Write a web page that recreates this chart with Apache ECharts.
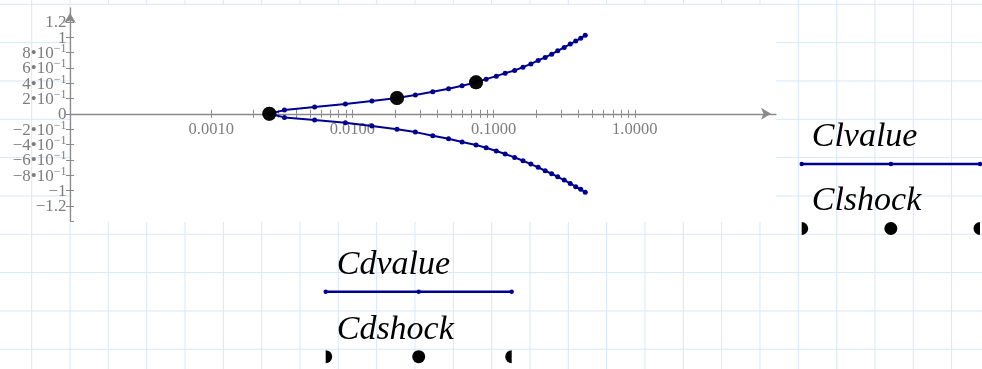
<!DOCTYPE html>
<html>
<head>
<meta charset="utf-8">
<script src="https://cdn.jsdelivr.net/npm/echarts@6/dist/echarts.min.js"></script>
<style>
html,body{margin:0;padding:0;background:#fff;}
#chart{width:982px;height:369px;}
</style>
</head>
<body>
<div id="chart"></div>
<script>
// ---- data ----
const xValues = [0.00258, 0.00330, 0.00540, 0.00892, 0.01375, 0.0207, 0.0279, 0.0371, 0.0480, 0.0598,
  0.0751, 0.0885, 0.1045, 0.1207, 0.1409, 0.1614, 0.1836, 0.2069, 0.2318, 0.2578,
  0.2844, 0.3162, 0.3489, 0.3817, 0.4140, 0.4458];
const clValues = [0, 0.048, 0.087, 0.127, 0.166, 0.205, 0.244, 0.287, 0.326, 0.365,
  0.41, 0.452, 0.491, 0.530, 0.565, 0.608, 0.651, 0.696, 0.735, 0.778,
  0.821, 0.866, 0.909, 0.948, 0.987, 1.023];
const cdValues = [0, -0.047, -0.082, -0.117, -0.16, -0.203, -0.239, -0.287, -0.326, -0.369,
  -0.408, -0.443, -0.486, -0.525, -0.569, -0.613, -0.656, -0.699, -0.743, -0.782,
  -0.822, -0.865, -0.908, -0.952, -0.986, -1.025];
const shockX = [0.00258, 0.0207, 0.0751];
const clShock = [0, 0.205, 0.41];
const cdShock = [0, 0.205, 0.41];
const xTickValues = [0.001, 0.002, 0.003, 0.004, 0.005, 0.006, 0.007, 0.008, 0.009,
  0.01, 0.02, 0.03, 0.04, 0.05, 0.06, 0.07, 0.08, 0.09,
  0.1, 0.2, 0.3, 0.4, 0.5, 0.6, 0.7, 0.8, 0.9, 1];
const xLabelValues = [0.001, 0.01, 0.1, 1];
const yTickValues = [-1.4, -1.2, -1, -0.8, -0.6, -0.4, -0.2, 0, 0.2, 0.4, 0.6, 0.8, 1, 1.2];
const yMin = -1.4, yMax = 1.38, yStep = 0.2;
const legendNames = ['Clvalue', 'Clshock', 'Cdvalue', 'Cdshock'];

// ---- styling ----
const NAVY = '#000090';
const AXIS = '#8a8a8a';
const LABEL = '#7d7d7d';
const GRIDC = '#d8e7fa';
const SERIF = '"Liberation Serif", serif';

function fmtY(v) {
  if (Math.abs(v) > 1.3) return '';
  const a = Math.round(Math.abs(v) * 10);
  const sign = v < 0 ? '\u2212' : '';
  if (a === 0) return '{b|0}';
  if (a === 10) return '{b|' + sign + '1}';
  if (a === 12) return '{b|' + sign + '1.2}';
  return '{b|' + sign + a + '\u2022' + '10}{s|\u22121}';
}

const graphics = [];
// worksheet grid
for (let k = 0; k < 26; k++) {
  const x = 31.7 + 38.33 * k;
  graphics.push({type: 'line', z: -10, silent: true,
    shape: {x1: x, y1: 0, x2: x, y2: 369}, style: {stroke: GRIDC, lineWidth: 1}});
}
for (let k = 0; k < 10; k++) {
  const y = 4.3 + 38.33 * k;
  graphics.push({type: 'line', z: -10, silent: true,
    shape: {x1: 0, y1: y, x2: 982, y2: y}, style: {stroke: GRIDC, lineWidth: 1}});
}
// white plot region
graphics.push({type: 'rect', z: -9, silent: true,
  shape: {x: 70, y: 5, width: 706, height: 217}, style: {fill: '#fff'}});

// legend blocks (Mathcad style)
const LFONT = 'italic 34px ' + SERIF;
function legendLine(name, tx, tBase, ly, x1, x2) {
  graphics.push({type: 'text', z: 5, style: {text: name, x: tx, y: tBase - 10,
    font: LFONT, fill: '#000', verticalAlign: 'middle', align: 'left'}});
  graphics.push({type: 'line', z: 5, shape: {x1: x1, y1: ly, x2: x2, y2: ly},
    style: {stroke: NAVY, lineWidth: 2.5}});
  [x1, (x1 + x2) / 2, x2].forEach(function (cx) {
    graphics.push({type: 'circle', z: 6, shape: {cx: cx, cy: ly, r: 2.2}, style: {fill: NAVY}});
  });
}
function legendDots(name, tx, tBase, ly, x1, x2) {
  graphics.push({type: 'text', z: 5, style: {text: name, x: tx, y: tBase - 10,
    font: LFONT, fill: '#000', verticalAlign: 'middle', align: 'left'}});
  graphics.push({type: 'sector', z: 6, shape: {cx: x1, cy: ly, r: 6.5, startAngle: -Math.PI / 2, endAngle: Math.PI / 2}, style: {fill: '#000'}});
  graphics.push({type: 'circle', z: 6, shape: {cx: (x1 + x2) / 2, cy: ly, r: 6.5}, style: {fill: '#000'}});
  graphics.push({type: 'sector', z: 6, shape: {cx: x2, cy: ly, r: 6.5, startAngle: Math.PI / 2, endAngle: Math.PI * 1.5}, style: {fill: '#000'}});
}
legendLine(legendNames[0], 811.7, 147.3, 164, 801.7, 980);
legendDots(legendNames[1], 811.7, 210.7, 228.5, 801.7, 980);
legendLine(legendNames[2], 336.7, 275, 291.7, 325.7, 511.7);
legendDots(legendNames[3], 336.7, 340, 356.7, 325.7, 511.7);

const chart = echarts.init(document.getElementById('chart'), null, {renderer: 'canvas'});
const option = {
  animation: false,
  backgroundColor: 'transparent',
  graphic: graphics,
  grid: {left: 70, right: 206, top: 8, bottom: 147.9, containLabel: false},
  xAxis: [
    {
      type: 'log', logBase: 10, min: 0.0001, max: 10, position: 'bottom',
      axisLine: {onZero: true, symbol: ['none', 'arrow'], symbolSize: [9, 10], symbolOffset: [0, -5],
        lineStyle: {color: AXIS, width: 1.3}},
      axisTick: {show: true, inside: false, length: 4, customValues: xTickValues,
        lineStyle: {color: AXIS, width: 1}},
      axisLabel: {show: true, customValues: xLabelValues, margin: -100.4, color: LABEL,
        fontFamily: SERIF, fontSize: 16.5, showMinLabel: true, showMaxLabel: true, hideOverlap: false,
        formatter: function (v) { return Number(v).toFixed(4); }},
      splitLine: {show: false}, minorTick: {show: false}
    },
    {
      type: 'log', logBase: 10, min: 0.0001, max: 10, position: 'bottom',
      axisLine: {show: false, onZero: true},
      axisTick: {show: true, inside: true, length: 4, customValues: xTickValues,
        lineStyle: {color: AXIS, width: 1}},
      axisLabel: {show: false},
      splitLine: {show: false}
    }
  ],
  yAxis: [
    {
      type: 'value', min: yMin, max: yMax, interval: yStep, position: 'left',
      axisLine: {show: true, onZero: false, symbol: ['none', 'arrow'], symbolSize: [9, 10], symbolOffset: [0, -5],
        lineStyle: {color: AXIS, width: 1.3}},
      axisTick: {show: true, inside: false, length: 4, customValues: yTickValues,
        lineStyle: {color: AXIS, width: 1}},
      axisLabel: {show: true, margin: 3.5, color: LABEL,
        showMinLabel: false, showMaxLabel: false, hideOverlap: false,
        formatter: fmtY,
        rich: {
          b: {fontFamily: SERIF, fontSize: 17, color: LABEL, lineHeight: 19, verticalAlign: 'bottom'},
          s: {fontFamily: SERIF, fontSize: 12, color: LABEL, lineHeight: 11, verticalAlign: 'top'}
        }},
      splitLine: {show: false}
    },
    {
      type: 'value', min: yMin, max: yMax, interval: yStep, position: 'left',
      axisLine: {show: false, onZero: false},
      axisTick: {show: true, inside: true, length: 4, customValues: yTickValues,
        lineStyle: {color: AXIS, width: 1}},
      axisLabel: {show: false},
      splitLine: {show: false}
    }
  ],
  series: [
    {
      name: legendNames[0], type: 'line', xAxisIndex: 0, yAxisIndex: 0,
      data: xValues.map(function (x, i) { return [x, clValues[i]]; }),
      symbol: 'circle', symbolSize: 5, showAllSymbol: true,
      lineStyle: {color: NAVY, width: 2}, itemStyle: {color: NAVY}, z: 3
    },
    {
      name: legendNames[2], type: 'line', xAxisIndex: 0, yAxisIndex: 0,
      data: xValues.map(function (x, i) { return [x, cdValues[i]]; }),
      symbol: 'circle', symbolSize: 5, showAllSymbol: true,
      lineStyle: {color: NAVY, width: 2}, itemStyle: {color: NAVY}, z: 3
    },
    {
      name: legendNames[1], type: 'scatter', xAxisIndex: 0, yAxisIndex: 0,
      data: shockX.map(function (x, i) { return [x, clShock[i]]; }),
      symbol: 'circle', symbolSize: 14, itemStyle: {color: '#000'}, z: 4
    },
    {
      name: legendNames[3], type: 'scatter', xAxisIndex: 0, yAxisIndex: 0,
      data: shockX.map(function (x, i) { return [x, cdShock[i]]; }),
      symbol: 'circle', symbolSize: 14, itemStyle: {color: '#000'}, z: 4
    }
  ]
};
chart.setOption(option);
</script>
</body>
</html>
